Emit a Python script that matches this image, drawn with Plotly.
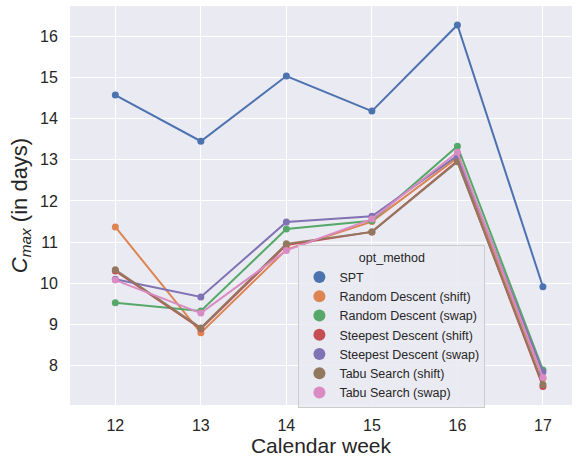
import plotly.graph_objects as go

weeks = [12, 13, 14, 15, 16, 17]

methods = [
    "SPT",
    "Random Descent (shift)",
    "Random Descent (swap)",
    "Steepest Descent (shift)",
    "Steepest Descent (swap)",
    "Tabu Search (shift)",
    "Tabu Search (swap)",
]

spt = [14.57, 13.45, 15.03, 14.18, 16.27, 9.92]
rd_shift = [11.37, 8.80, 10.82, 11.50, 13.05, 7.70]
rd_swap = [9.53, 9.33, 11.32, 11.52, 13.33, 7.90]
sd_shift = [10.30, 8.90, 10.93, 11.25, 12.97, 7.50]
sd_swap = [10.10, 9.67, 11.49, 11.63, 13.10, 7.85]
ts_shift = [10.33, 8.92, 10.96, 11.25, 12.95, 7.55]
ts_swap = [10.08, 9.28, 10.80, 11.56, 13.18, 7.72]

series = [spt, rd_shift, rd_swap, sd_shift, sd_swap, ts_shift, ts_swap]
colors = ["#4c72b0", "#dd8452", "#55a868", "#c44e52", "#8172b3", "#937860", "#da8bc3"]

fig = go.Figure()

for name, vals, col in zip(methods, series, colors):
    fig.add_trace(go.Scatter(
        x=weeks, y=vals, mode="lines+markers", name=name,
        line=dict(color=col, width=2),
        marker=dict(color=col, size=7),
        showlegend=False,
    ))

# legend entries show the marker only
for name, col in zip(methods, colors):
    fig.add_trace(go.Scatter(
        x=[None], y=[None], mode="markers", name=name,
        marker=dict(color=col, size=9),
    ))

fig.update_layout(
    width=582, height=458,
    margin=dict(l=70, r=10, t=6, b=53),
    paper_bgcolor="white",
    plot_bgcolor="#eaeaf2",
    font=dict(family="Liberation Sans, Arial, sans-serif", color="#262626"),
    xaxis=dict(
        range=[11.47, 17.34],
        tickvals=weeks,
        tickfont=dict(size=16),
        showgrid=True, gridcolor="white", gridwidth=1,
        zeroline=False, showline=False,
        ticks="outside", ticklen=6, tickcolor="rgba(0,0,0,0)",
        title=dict(text="Calendar week", font=dict(size=21), standoff=2),
    ),
    yaxis=dict(
        range=[7.05, 16.73],
        tickvals=[8, 9, 10, 11, 12, 13, 14, 15, 16],
        tickfont=dict(size=16),
        showgrid=True, gridcolor="white", gridwidth=1,
        zeroline=False, showline=False,
        ticks="outside", ticklen=8, tickcolor="rgba(0,0,0,0)",
        title=dict(text="<i>C</i><sub><i>max</i></sub> (in days)", font=dict(size=22), standoff=6),
    ),
    legend=dict(
        title=dict(text="opt_method", side="top center", font=dict(size=12.5)),
        font=dict(size=12.5),
        x=0.455, y=-0.008, xanchor="left", yanchor="bottom",
        bgcolor="rgba(234,234,242,0.85)",
        bordercolor="#cccccc", borderwidth=1,
        itemsizing="constant",
        tracegroupgap=0,
    ),
)

fig.write_html("out.html")
